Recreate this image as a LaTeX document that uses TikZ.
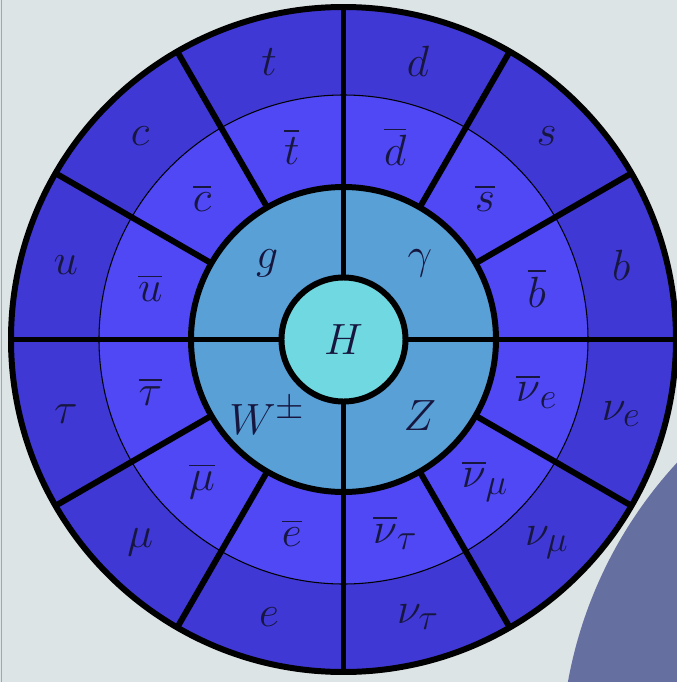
\documentclass[tikz,border=0pt]{standalone}
\usepackage{amsmath,amssymb}
\usepackage{xcolor}
\usepackage{tikz}
\usetikzlibrary{positioning}

\definecolor{slidebg}{RGB}{221,228,230}
\definecolor{slidearc}{RGB}{102,112,160}
\definecolor{fermout}{RGB}{64,56,212}
\definecolor{fermin}{RGB}{80,72,244}
\definecolor{bosonbg}{RGB}{88,160,214}
\definecolor{higgsbg}{RGB}{112,216,224}
\definecolor{labelink}{RGB}{22,22,62}

\begin{document}
\begin{tikzpicture}[
    ring/.style={line width=3.4pt,draw=black},
    spoke/.style={line width=3.4pt,draw=black},
    lbl/.style={inner sep=0pt,text=labelink,font=\Huge}
  ]
    % Slide background
    \useasboundingbox (-6.87,-6.85) rectangle (6.67,6.79);
    \fill[slidebg] (-6.87,-6.85) rectangle (6.67,6.79);
    \draw[gray!70,line width=0.6pt] (-6.84,-6.85) -- (-6.84,6.79);
    \begin{scope}
      \clip (-6.87,-6.85) rectangle (6.67,6.79);
      \fill[slidearc] (13.13,-8.41) circle (8.78);
    \end{scope}

    % Rings
    \fill[fermout] (0,0) circle (6.65);
    \filldraw[fill=fermin,draw=black,line width=0.6pt] (0,0) circle (4.89);
    \fill[bosonbg] (0,0) circle (3.05);

    % Spokes between the fermion sectors
    \draw[spoke] (30:3.05)  -- (30:6.65);
    \draw[spoke] (60:3.05)  -- (60:6.65);
    \draw[spoke] (120:3.05) -- (120:6.65);
    \draw[spoke] (150:3.05) -- (150:6.65);
    \draw[spoke] (210:3.05) -- (210:6.65);
    \draw[spoke] (240:3.05) -- (240:6.65);
    \draw[spoke] (300:3.05) -- (300:6.65);
    \draw[spoke] (330:3.05) -- (330:6.65);
    \draw[spoke] (0:1.24)   -- (0:6.65);
    \draw[spoke] (90:1.24)  -- (90:6.65);
    \draw[spoke] (180:1.24) -- (180:6.65);
    \draw[spoke] (270:1.24) -- (270:6.65);

    \draw[ring] (0,0) circle (6.65);
    \draw[ring] (0,0) circle (3.05);
    \filldraw[ring,fill=higgsbg] (0,0) circle (1.24);

    % Higgs and gauge bosons
    \node[lbl] (higgs) at (0,0) {$H$};
    \node[lbl] (gluon)  at (135:2.16) {$g$};
    \node[lbl] (photon) at (45:2.16)  {$\gamma$};
    \node[lbl] (wboson) at (225:2.16) {$W^{\pm}$};
    \node[lbl] (zboson) at (315:2.16) {$Z$};

    % Fermions (outer ring)
    \node[lbl] (down)  at (75:5.75)   {$d$};
    \node[lbl] (strange) at (45:5.75) {$s$};
    \node[lbl] (bottom) at (15:5.75)  {$b$};
    \node[lbl] (nue)   at (-15:5.75)  {$\nu_e$};
    \node[lbl] (numu)  at (-45:5.75)  {$\nu_\mu$};
    \node[lbl] (nutau) at (-75:5.75)  {$\nu_\tau$};
    \node[lbl] (elec)  at (-105:5.75) {$e$};
    \node[lbl] (muon)  at (-135:5.75) {$\mu$};
    \node[lbl] (tau)   at (-165:5.75) {$\tau$};
    \node[lbl] (up)    at (165:5.75)  {$u$};
    \node[lbl] (charm) at (135:5.75)  {$c$};
    \node[lbl] (top)   at (105:5.75)  {$t$};

    % Antifermions (inner ring)
    \node[lbl] (adown)  at (75:4.0)   {$\overline{d}$};
    \node[lbl] (astrange) at (45:4.0) {$\overline{s}$};
    \node[lbl] (abottom) at (15:4.0)  {$\overline{b}$};
    \node[lbl] (anue)   at (-15:4.0)  {$\overline{\nu}_e$};
    \node[lbl] (anumu)  at (-45:4.0)  {$\overline{\nu}_\mu$};
    \node[lbl] (anutau) at (-75:4.0)  {$\overline{\nu}_\tau$};
    \node[lbl] (aelec)  at (-105:4.0) {$\overline{e}$};
    \node[lbl] (amuon)  at (-135:4.0) {$\overline{\mu}$};
    \node[lbl] (atau)   at (-165:4.0) {$\overline{\tau}$};
    \node[lbl] (aup)    at (165:4.0)  {$\overline{u}$};
    \node[lbl] (acharm) at (135:4.0)  {$\overline{c}$};
    \node[lbl] (atop)   at (105:4.0)  {$\overline{t}$};
  \end{tikzpicture}
\end{document}
